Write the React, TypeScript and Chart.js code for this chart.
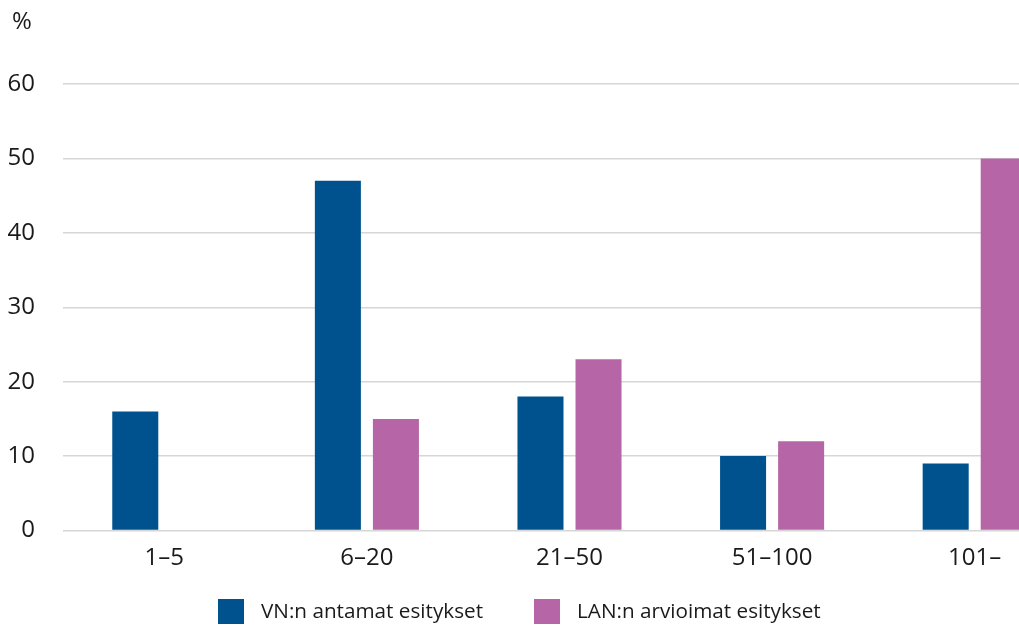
import React, { useEffect, useRef } from "react";
import { Chart, registerables } from "chart.js";

Chart.register(...registerables);

const categories = ["1–5", "6–20", "21–50", "51–100", "101–"];
const vnValues = [16, 47, 18, 10, 9];
const lanValues = [0, 15, 23, 12, 50];
const seriesLabels = ["VN:n antamat esitykset", "LAN:n arvioimat esitykset"];
const seriesColors = ["#00528F", "#B666A6"];
const yMin = 0;
const yMax = 60;
const yStep = 10;
const unitLabel = "%";

const FONT = "'Open Sans', 'Noto Sans', sans-serif";
const TEXT = "#1a1a1a";

const unitPlugin = {
  id: "unitLabel",
  afterDraw(chart: any) {
    const ctx = chart.ctx;
    ctx.save();
    ctx.font = `24px ${FONT}`;
    ctx.fillStyle = TEXT;
    ctx.textAlign = "left";
    ctx.textBaseline = "middle";
    ctx.fillText(unitLabel, 12, 22);
    ctx.restore();
  },
};

const legendPlugin = {
  id: "customLegend",
  afterDraw(chart: any) {
    const ctx = chart.ctx;
    ctx.save();
    ctx.font = `20.7px ${FONT}`;
    ctx.textBaseline = "middle";
    ctx.textAlign = "left";
    const boxW = 26;
    const boxH = 25;
    const y = 599;
    let x = 218;
    chart.data.datasets.forEach((ds: any) => {
      ctx.fillStyle = ds.backgroundColor;
      ctx.fillRect(x, y, boxW, boxH);
      ctx.fillStyle = TEXT;
      ctx.fillText(ds.label, x + boxW + 17, y + boxH / 2 + 1);
      x += boxW + 17 + ctx.measureText(ds.label).width + 51;
    });
    ctx.restore();
  },
};

export default function App() {
  const ref = useRef<HTMLCanvasElement | null>(null);

  useEffect(() => {
    if (!ref.current) return;
    const chart = new Chart(ref.current, {
      type: "bar",
      data: {
        labels: categories,
        datasets: [
          {
            label: seriesLabels[0],
            data: vnValues,
            backgroundColor: seriesColors[0],
            categoryPercentage: 0.573,
            barPercentage: 0.793,
          },
          {
            label: seriesLabels[1],
            data: lanValues,
            backgroundColor: seriesColors[1],
            categoryPercentage: 0.573,
            barPercentage: 0.793,
          },
        ],
      },
      options: {
        animation: false,
        responsive: false,
        devicePixelRatio: 1,
        layout: { padding: { left: 8, top: 84, right: 0, bottom: 0 } },
        plugins: {
          legend: { display: false },
          tooltip: { enabled: false },
          title: { display: false },
        },
        scales: {
          x: {
            grid: { display: false },
            border: { display: false },
            ticks: {
              color: TEXT,
              font: { family: FONT, size: 24 },
              padding: 5,
              maxRotation: 0,
            },
            afterFit(scale: any) {
              scale.height = 97.5;
            },
          },
          y: {
            min: yMin,
            max: yMax,
            border: { display: false },
            grid: { color: "#d6d6d6", lineWidth: 1.5, drawTicks: false },
            ticks: {
              stepSize: yStep,
              color: TEXT,
              font: { family: FONT, size: 24 },
              padding: 28,
            },
            afterFit(scale: any) {
              scale.width = 55;
            },
          },
        },
      },
      plugins: [unitPlugin, legendPlugin],
    });
    return () => chart.destroy();
  }, []);

  return (
    <div
      style={{
        position: "absolute",
        left: 0,
        top: 0,
        width: 1019,
        height: 628,
        overflow: "hidden",
        background: "#ffffff",
      }}
    >
      <canvas ref={ref} width={1076} height={628} style={{ display: "block" }} />
    </div>
  );
}
